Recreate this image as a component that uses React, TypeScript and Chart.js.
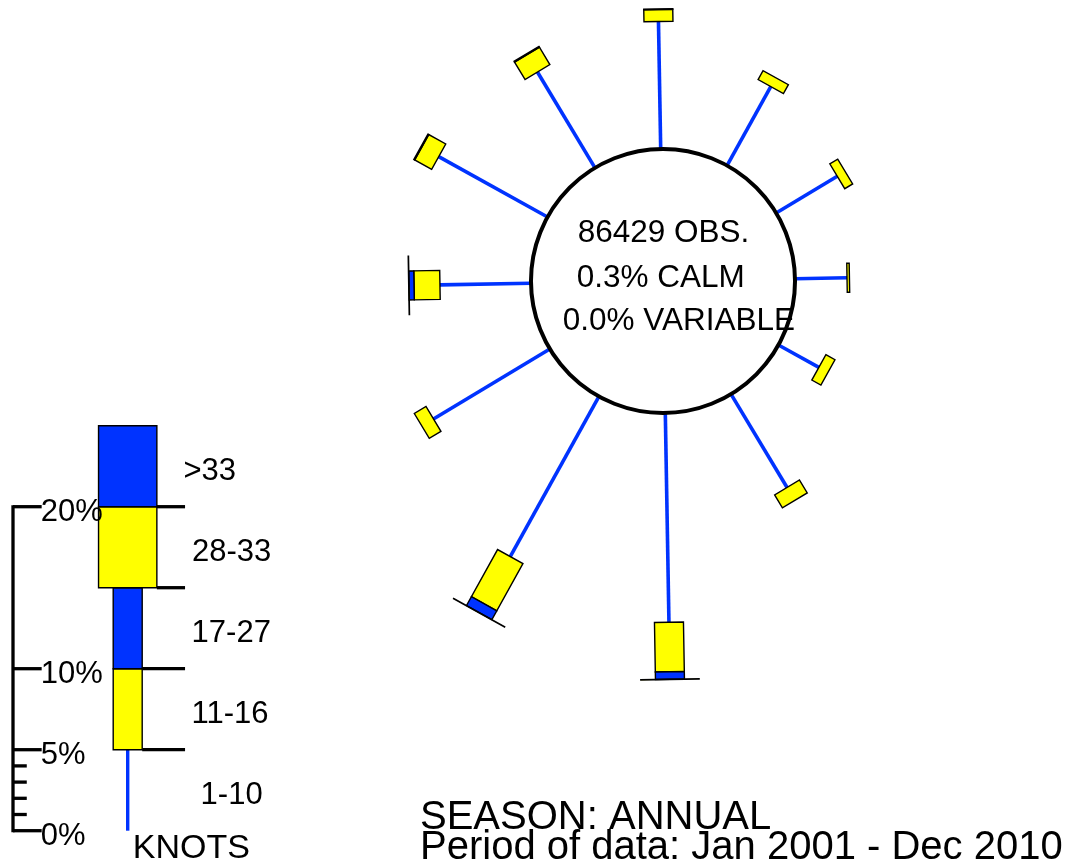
import { useEffect, useRef } from "react";
import { Chart, registerables } from "chart.js";

Chart.register(...registerables);

// ---------------- data ----------------
const DIRECTIONS = [0, 30, 60, 90, 120, 150, 180, 210, 240, 270, 300, 330];
const PCT_1_10 = [7.87, 5.57, 4.4, 3.21, 2.85, 6.72, 12.92, 11.3, 8.38, 5.62, 7.68, 6.9];
const PCT_11_16 = [0.74, 0.63, 0.57, 0.15, 0.64, 0.93, 3.05, 3.33, 0.84, 1.6, 1.2, 1.25];
const PCT_17_27 = [0.03, 0, 0, 0, 0, 0, 0.47, 0.62, 0, 0.31, 0.06, 0.06];
const PCT_28_33 = [0, 0, 0, 0, 0, 0, 0.02, 0.02, 0, 0.02, 0, 0];
const PCT_OVER_33 = [0, 0, 0, 0, 0, 0, 0, 0, 0, 0, 0, 0];
const SPEED_BINS = [PCT_1_10, PCT_11_16, PCT_17_27, PCT_28_33, PCT_OVER_33];
const SPEED_LABELS = ["1-10", "11-16", "17-27", "28-33", ">33"];
const SPEED_UNIT = "KNOTS";
const LEGEND_STEP = [5, 5, 5, 5, 5];
const SCALE_MAJOR = [0, 5, 10, 20];
const SCALE_MINOR = [1, 2, 3, 4];
const SCALE_RIGHT_TICKS = [5, 10, 15, 20];
const OBS_COUNT = 86429;
const CALM_PCT = 0.3;
const VARIABLE_PCT = 0.0;
const SEASON = "ANNUAL";
const PERIOD = "Jan 2001 - Dec 2010";

// ---------------- layout / style ----------------
const W = 1069;
const H = 867;
const PX_PER_PCT = 16.2;
const CENTER_PX = { x: 663, y: 281 };
const CIRCLE_R = 8.15; // % units
const ROTATION = -1; // degrees
const BIN_WIDTH = [0, 1.79, 1.79, 3.6, 3.6]; // % units
const BLUE = "#0033ff";
const YELLOW = "#ffff00";
const BIN_COLORS = [BLUE, YELLOW, BLUE, YELLOW, BLUE];
const LEGEND_ORIGIN = { x: (127.7 - CENTER_PX.x) / PX_PER_PCT, y: (CENTER_PX.y - 830.7) / PX_PER_PCT };
const AXIS_X = (13 - CENTER_PX.x) / PX_PER_PCT;
const MAJOR_LEN = 1.77;
const MINOR_LEN = 0.85;
const RIGHT_TICK_END = 3.54;
const FONT = '"Liberation Sans", Arial, Helvetica, sans-serif';
const LABEL_DX = [72.9, 63.9, 63.9, 64.3, 55.8];

const rad = (d: number) => (d * Math.PI) / 180;

type Pt = { x: number; y: number };

function polar(ox: number, oy: number, theta: number, r: number): Pt {
  const t = rad(theta);
  return { x: ox + r * Math.sin(t), y: oy + r * Math.cos(t) };
}

function line(a: Pt, b: Pt, color: string, width: number) {
  return {
    data: [a, b],
    showLine: true,
    borderColor: color,
    backgroundColor: color,
    borderWidth: width,
    pointRadius: 0,
    borderCapStyle: "butt" as const,
    fill: false,
  };
}

function buildDatasets() {
  const ds: any[] = [];
  // spoke lines (1-10 knots)
  DIRECTIONS.forEach((d, i) => {
    const th = d + ROTATION;
    ds.push(line(polar(0, 0, th, CIRCLE_R), polar(0, 0, th, CIRCLE_R + PCT_1_10[i]), BLUE, 3.6));
  });
  // legend 1-10 line
  const L = LEGEND_ORIGIN;
  ds.push(line({ x: L.x, y: L.y }, { x: L.x, y: L.y + LEGEND_STEP[0] }, BLUE, 3.4));
  // scale axis
  const top = SCALE_MAJOR[SCALE_MAJOR.length - 1];
  ds.push(line({ x: AXIS_X, y: L.y - 0.09 }, { x: AXIS_X, y: L.y + top + 0.09 }, "#000", 3.3));
  SCALE_MAJOR.forEach((v) =>
    ds.push(line({ x: AXIS_X, y: L.y + v }, { x: AXIS_X + MAJOR_LEN, y: L.y + v }, "#000", 3.3))
  );
  SCALE_MINOR.forEach((v) =>
    ds.push(line({ x: AXIS_X, y: L.y + v }, { x: AXIS_X + MINOR_LEN, y: L.y + v }, "#000", 3.3))
  );
  // right-hand separator ticks of legend bar
  let acc = 0;
  const bounds = LEGEND_STEP.map((s) => (acc += s));
  SCALE_RIGHT_TICKS.forEach((v) => {
    const k = bounds.indexOf(v);
    const half = Math.max(BIN_WIDTH[k] || 0, BIN_WIDTH[k + 1] || 0) / 2;
    ds.push(line({ x: L.x + half, y: L.y + v }, { x: L.x + RIGHT_TICK_END, y: L.y + v }, "#000", 3.3));
  });
  return ds;
}

function drawBox(chart: any, ox: number, oy: number, theta: number, r0: number, r1: number, w: number, color: string) {
  const { ctx } = chart;
  const xs = chart.scales.x;
  const ys = chart.scales.y;
  const t = rad(theta);
  const ux = Math.sin(t), uy = Math.cos(t);
  const px = Math.cos(t), py = -Math.sin(t);
  const h = w / 2;
  const corners = [
    [r0, -h],
    [r1, -h],
    [r1, h],
    [r0, h],
  ].map(([r, s]) => ({
    x: xs.getPixelForValue(ox + r * ux + s * px),
    y: ys.getPixelForValue(oy + r * uy + s * py),
  }));
  ctx.beginPath();
  ctx.moveTo(corners[0].x, corners[0].y);
  for (let i = 1; i < 4; i++) ctx.lineTo(corners[i].x, corners[i].y);
  ctx.closePath();
  ctx.fillStyle = color;
  ctx.fill();
  ctx.lineWidth = 1.4;
  ctx.strokeStyle = "#000";
  ctx.stroke();
}

const rosePlugin = {
  id: "windrose",
  afterDatasetsDraw(chart: any) {
    const { ctx } = chart;
    const xs = chart.scales.x;
    const ys = chart.scales.y;
    const cx = xs.getPixelForValue(0);
    const cy = ys.getPixelForValue(0);
    const rpx = xs.getPixelForValue(CIRCLE_R) - cx;

    ctx.save();
    // calm circle
    ctx.beginPath();
    ctx.arc(cx, cy, rpx, 0, Math.PI * 2);
    ctx.fillStyle = "#fff";
    ctx.fill();
    ctx.lineWidth = 4;
    ctx.strokeStyle = "#000";
    ctx.stroke();

    // rose boxes
    DIRECTIONS.forEach((d, i) => {
      const th = d + ROTATION;
      let r = CIRCLE_R + SPEED_BINS[0][i];
      for (let b = 1; b < SPEED_BINS.length; b++) {
        const v = SPEED_BINS[b][i];
        if (v > 0) drawBox(chart, 0, 0, th, r, r + v, BIN_WIDTH[b], BIN_COLORS[b]);
        r += v;
      }
    });

    // legend boxes
    const L = LEGEND_ORIGIN;
    let r = LEGEND_STEP[0];
    for (let b = 1; b < LEGEND_STEP.length; b++) {
      drawBox(chart, L.x, L.y, 0, r, r + LEGEND_STEP[b], BIN_WIDTH[b], BIN_COLORS[b]);
      r += LEGEND_STEP[b];
    }

    ctx.fillStyle = "#000";
    ctx.textAlign = "left";
    ctx.textBaseline = "alphabetic";

    // centre texts
    ctx.font = `31.5px ${FONT}`;
    ctx.fillText(`${OBS_COUNT} OBS.`, cx - 85.3, cy - 39.3);
    ctx.fillText(`${CALM_PCT.toFixed(1)}% CALM`, cx - 86.3, cy + 5.7);
    ctx.fillText(`${VARIABLE_PCT.toFixed(1)}% VARIABLE`, cx - 100.3, cy + 49);

    // scale labels
    ctx.font = `31px ${FONT}`;
    SCALE_MAJOR.forEach((v) => {
      const tx = xs.getPixelForValue(AXIS_X + MAJOR_LEN) - 1;
      const ty = ys.getPixelForValue(L.y + v) + 13.8;
      ctx.fillText(`${v}%`, tx, ty);
    });

    // speed labels
    const lx = xs.getPixelForValue(L.x);
    let acc = 0;
    LEGEND_STEP.forEach((s, b) => {
      const mid = acc + s / 2;
      acc += s;
      ctx.fillText(SPEED_LABELS[b], lx + LABEL_DX[b], ys.getPixelForValue(L.y + mid) + 13.5);
    });
    ctx.font = `34px ${FONT}`;
    ctx.fillText(SPEED_UNIT, lx + 5, ys.getPixelForValue(L.y) + 27.6);

    // bottom texts
    ctx.font = `40px ${FONT}`;
    ctx.fillText(`SEASON: ${SEASON}`, cx - 243, cy + 548);
    ctx.fillText(`Period of data: ${PERIOD}`, cx - 243, cy + 577.5);
    ctx.restore();
  },
};

export default function App() {
  const ref = useRef<HTMLCanvasElement | null>(null);
  useEffect(() => {
    if (!ref.current) return;
    const chart = new Chart(ref.current, {
      type: "scatter",
      data: { datasets: buildDatasets() },
      options: {
        animation: false,
        responsive: false,
        maintainAspectRatio: false,
        events: [],
        layout: { padding: 0 },
        plugins: { legend: { display: false }, tooltip: { enabled: false }, title: { display: false } },
        scales: {
          x: {
            type: "linear",
            display: false,
            min: -CENTER_PX.x / PX_PER_PCT,
            max: (W - CENTER_PX.x) / PX_PER_PCT,
          },
          y: {
            type: "linear",
            display: false,
            min: -(H - CENTER_PX.y) / PX_PER_PCT,
            max: CENTER_PX.y / PX_PER_PCT,
          },
        },
      },
      plugins: [rosePlugin],
    });
    return () => chart.destroy();
  }, []);
  return (
    <div style={{ position: "absolute", left: 0, top: 0, width: W, height: H, background: "#fff" }}>
      <canvas ref={ref} width={W} height={H} style={{ display: "block" }} />
    </div>
  );
}
